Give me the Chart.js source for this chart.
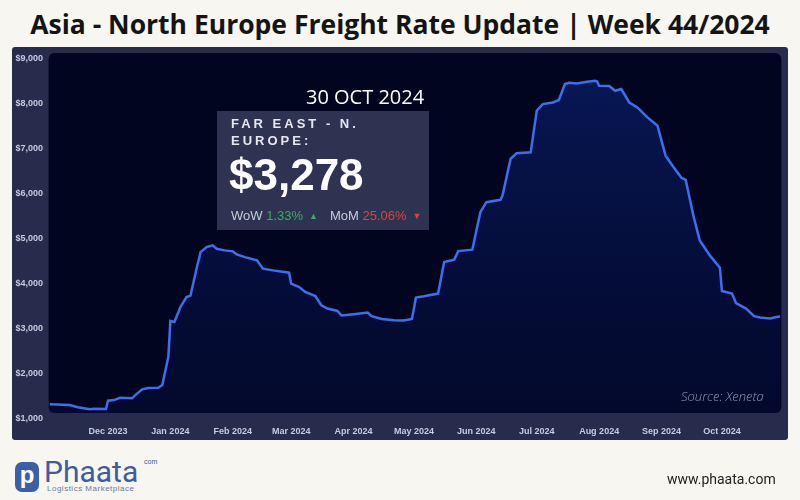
<!DOCTYPE html>
<html>
<head>
<meta charset="utf-8">
<script src="https://cdn.jsdelivr.net/npm/chart.js@4.4.0/dist/chart.umd.min.js"></script>
<style>
    body { margin: 0; background: #f7f6f1; }
    .page { position: relative; width: 800px; height: 500px; overflow: hidden; background: #f7f6f1; font-family: 'Liberation Sans', Arial, sans-serif; }
    .title { position: absolute; left: 0; top: 6px; width: 800px; text-align: center; font-family: 'Open Sans', sans-serif; font-weight: 700; font-size: 26.5px; color: #141414; white-space: nowrap; }
    .panel { position: absolute; left: 12px; top: 47px; width: 776px; height: 393px; background: #272c4d; border-radius: 3px; }
    .panel canvas { position: absolute; left: 0; top: 0; }
    .date { position: absolute; left: 306px; top: 83px; font-family: 'Open Sans', sans-serif; font-size: 20px; color: #ffffff; white-space: nowrap; }
    .box { position: absolute; left: 217px; top: 111px; width: 212px; height: 119px; background: #2e3352; }
    .box .lane { position: absolute; left: 14px; top: 4px; font-weight: 700; font-size: 13px; line-height: 17px; letter-spacing: 3px; color: #e6e7ef; }
    .box .rate { position: absolute; left: 12px; top: 39px; font-weight: 700; font-size: 44px; color: #ffffff; }
    .box .chg { position: absolute; left: 14px; top: 97px; font-size: 13px; color: #c9cbd9; white-space: nowrap; }
    .up { color: #3fa862; }
    .down { color: #d9443f; }
    .tri { font-size: 9px; vertical-align: 1px; margin-left: 6px; margin-right: 12px; }
    .source { position: absolute; left: 681px; top: 387px; font-family: 'Open Sans', sans-serif; font-style: italic; font-weight: 300; font-size: 13px; color: #8f95b0; white-space: nowrap; }
    .logo-icon { position: absolute; left: 15px; top: 462px; width: 24px; height: 30px; border-radius: 7px; background: #3b5ea8; color: #fff; font-weight: 700; font-size: 24px; line-height: 26px; text-align: center; }
    .logo-name { position: absolute; left: 44px; top: 454px; font-family: 'Roboto', sans-serif; font-weight: 400; font-size: 30px; color: #3e5c9e; }
    .logo-com { position: absolute; left: 144px; top: 458px; font-size: 7px; color: #3e5c9e; }
    .logo-tag { position: absolute; left: 47px; top: 484px; font-size: 8px; letter-spacing: 0.5px; color: #6a7aa0; white-space: nowrap; }
    .site { position: absolute; left: 667px; top: 471px; font-family: 'Roboto', sans-serif; font-size: 14px; color: #222; }
</style>
</head>
<body>
<div class="page">
    <div class="title">Asia - North Europe Freight Rate Update | Week 44/2024</div>
    <div class="panel"><canvas id="rateChart" width="776" height="393"></canvas></div>
    <div class="date">30 OCT 2024</div>
    <div class="box">
        <div class="lane">FAR EAST - N.<br>EUROPE:</div>
        <div class="rate">$3,278</div>
        <div class="chg">WoW <span class="up">1.33%</span><span class="up tri">▲</span>MoM <span class="down">25.06%</span><span class="down tri">▼</span></div>
    </div>
    <div class="source">Source: Xeneta</div>
    <div class="logo-icon">p</div>
    <div class="logo-name">Phaata</div>
    <div class="logo-com">com</div>
    <div class="logo-tag">Logistics Marketplace</div>
    <div class="site">www.phaata.com</div>
</div>
<script>
// Ngày tính từ 1/11/2023 và giá cước (USD/FEU)
const dayOffsets = [1, 11, 15, 21, 23, 29, 30, 33, 36, 42, 44, 47, 50, 55, 57, 60, 61, 63, 66, 69,
    71, 74, 76, 79, 82, 84, 88, 92, 94, 98, 104, 107, 112, 120, 121, 125, 128, 133, 136, 139,
    144, 146, 152, 159, 161, 166, 172, 177, 181, 183, 187, 194, 197, 202, 204, 211, 215, 218, 225, 226,
    230, 233, 240, 243, 246, 251, 254, 257, 259, 263, 268, 272, 273, 274, 279, 282, 285, 289, 293, 298,
    303, 307, 311, 315, 317, 321, 324, 329, 334, 335, 340, 342, 347, 351, 354, 359, 362, 364];
const rates = [1330, 1310, 1260, 1215, 1228, 1222, 1406, 1421, 1472, 1459, 1548, 1658, 1687, 1694, 1754, 2381, 3179, 3157, 3490, 3711,
    3742, 4341, 4709, 4820, 4858, 4784, 4747, 4725, 4658, 4598, 4525, 4341, 4303, 4252, 4008, 3933, 3822, 3734, 3527, 3454,
    3401, 3299, 3328, 3365, 3284, 3224, 3195, 3188, 3224, 3698, 3727, 3787, 4487, 4541, 4731, 4762, 5596, 5818, 5871, 5966,
    6780, 6904, 6926, 7851, 7999, 8034, 8088, 8443, 8471, 8456, 8493, 8515, 8500, 8405, 8398, 8294, 8332, 8034, 7924, 7702,
    7518, 6853, 6593, 6358, 6314, 5485, 4968, 4636, 4363, 3844, 3787, 3578, 3454, 3284, 3255, 3233, 3268, 3278];

// Nhãn trục X: ngày đầu tháng
const monthTicks = [30, 61, 92, 121, 152, 182, 213, 243, 274, 305, 335];
const monthLabels = ['Dec 2023', 'Jan 2024', 'Feb 2024', 'Mar 2024', 'Apr 2024', 'May 2024',
    'Jun 2024', 'Jul 2024', 'Aug 2024', 'Sep 2024', 'Oct 2024'];
const yTicks = [1000, 2000, 3000, 4000, 5000, 6000, 7000, 8000, 9000];

document.addEventListener('DOMContentLoaded', function() {
    const rateCtx = document.getElementById('rateChart');
    if (!rateCtx) return;

    // Nền tối của vùng vẽ (lệch lên 6px so với trục như ảnh gốc)
    const plotBackdrop = {
        id: 'plotBackdrop',
        beforeDraw: function(chart) {
            const a = chart.chartArea;
            const c = chart.ctx;
            c.save();
            c.fillStyle = '#020520';
            c.beginPath();
            c.roundRect(a.left - 1, a.top - 6, a.right - a.left + 2, a.bottom - a.top, 6);
            c.fill();
            c.restore();
        },
        beforeDatasetsDraw: function(chart) {
            const a = chart.chartArea;
            chart.ctx.save();
            chart.ctx.beginPath();
            chart.ctx.rect(a.left - 1, a.top - 6, a.right - a.left + 2, a.bottom - a.top);
            chart.ctx.clip();
        },
        afterDatasetsDraw: function(chart) {
            chart.ctx.restore();
        }
    };

    new Chart(rateCtx, {
        type: 'line',
        data: {
            datasets: [{
                label: 'Far East - N. Europe',
                data: dayOffsets.map(function(d, i) { return { x: d, y: rates[i] }; }),
                borderColor: '#3c6ff0',
                borderWidth: 2.5,
                tension: 0,
                pointRadius: 0,
                fill: 'start',
                backgroundColor: function(context) {
                    const area = context.chart.chartArea;
                    if (!area) return 'rgba(10, 30, 100, 0.3)';
                    const g = context.chart.ctx.createLinearGradient(0, area.top, 0, area.bottom);
                    g.addColorStop(0, 'rgba(12, 40, 130, 0.55)');
                    g.addColorStop(1, 'rgba(6, 20, 80, 0.25)');
                    return g;
                }
            }]
        },
        options: {
            responsive: false,
            animation: false,
            layout: {
                padding: { left: 0, right: 7.7, top: 11, bottom: 0 }
            },
            plugins: {
                legend: { display: false },
                tooltip: { enabled: false }
            },
            scales: {
                x: {
                    type: 'linear',
                    min: 1,
                    max: 364,
                    grid: { display: false, drawTicks: false },
                    border: { display: false },
                    afterBuildTicks: function(scale) {
                        scale.ticks = monthTicks.map(function(v) { return { value: v }; });
                    },
                    afterFit: function(scale) {
                        scale.height = 21;
                    },
                    ticks: {
                        autoSkip: false,
                        maxRotation: 0,
                        padding: 7,
                        color: '#c6cbe0',
                        font: { family: "'Liberation Sans', Arial", size: 9, weight: 'bold' },
                        callback: function(value) {
                            return monthLabels[monthTicks.indexOf(value)];
                        }
                    }
                },
                y: {
                    min: 1000,
                    max: 9000,
                    grid: { display: false, drawTicks: false },
                    border: { display: false },
                    afterBuildTicks: function(scale) {
                        scale.ticks = yTicks.map(function(v) { return { value: v }; });
                    },
                    afterFit: function(scale) {
                        scale.width = 37.6;
                    },
                    ticks: {
                        padding: 6.6,
                        color: '#c6cbe0',
                        font: { family: "'Liberation Sans', Arial", size: 9, weight: 'bold' },
                        callback: function(value) {
                            return '$' + value.toLocaleString('en-US');
                        }
                    }
                }
            }
        },
        plugins: [plotBackdrop]
    });
});
</script>
</body>
</html>
